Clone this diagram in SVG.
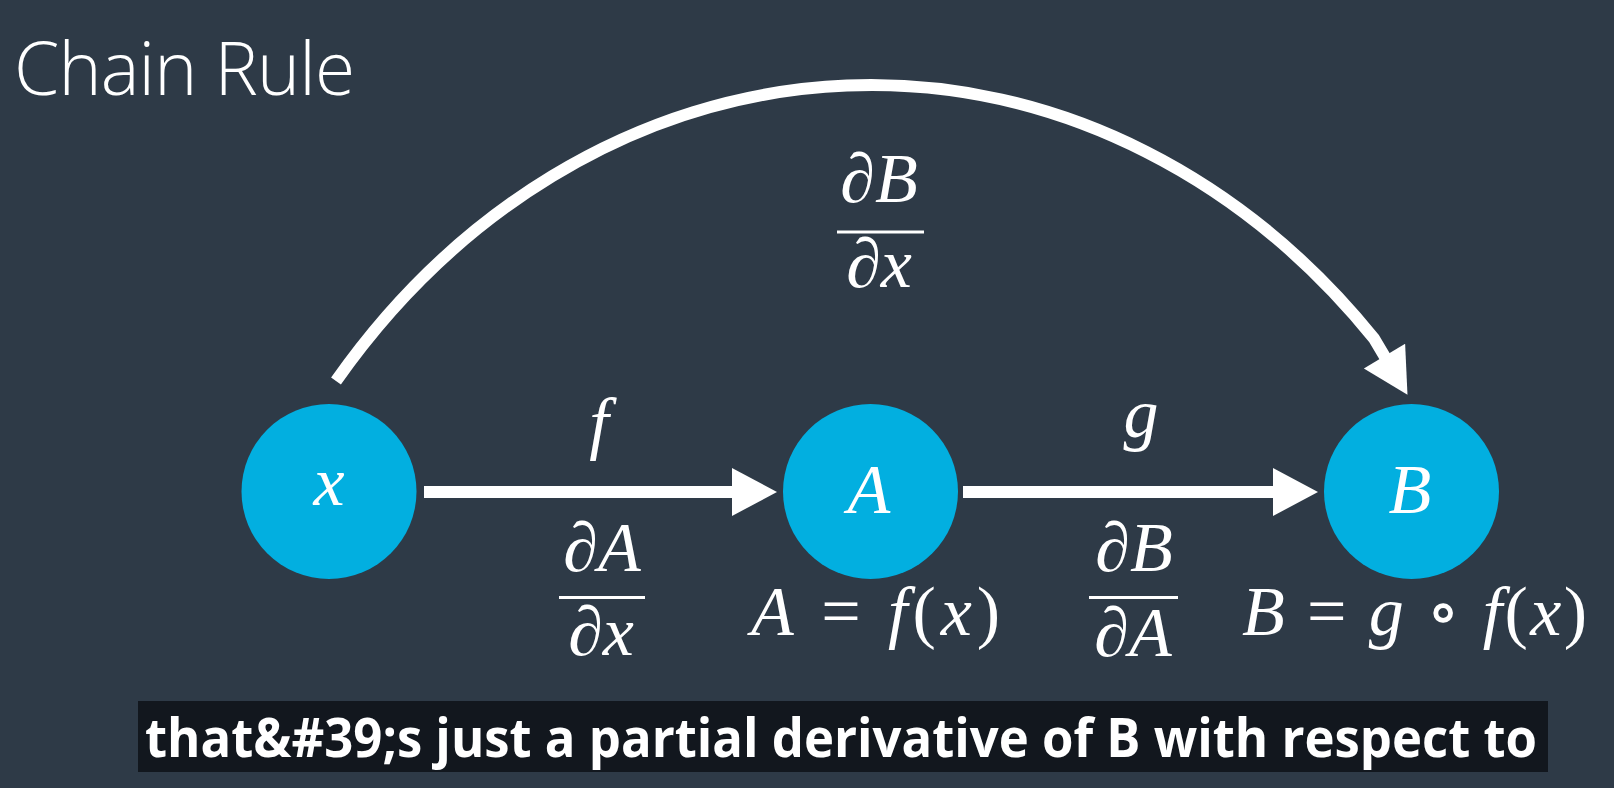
<svg xmlns="http://www.w3.org/2000/svg" width="1614" height="788" viewBox="0 0 1614 788">
  <defs>
    <style>
      .bg { fill: #2e3a47; }
      .node { fill: #02afe0; }
      .edge { fill: none; stroke: #ffffff; stroke-width: 12; stroke-linejoin: round; }
      .bar { stroke: #ffffff; stroke-width: 3; }
      .m { font-family: "Liberation Serif", "Times New Roman", "DejaVu Serif", serif; font-size: 70px; fill: #ffffff; }
      .title { font-family: "Open Sans", "Liberation Sans", sans-serif; font-weight: 300; font-size: 73px; fill: #ffffff; }
      .sub { font-family: "Open Sans", "Liberation Sans", sans-serif; font-weight: 700; font-size: 54px; fill: #ffffff; }
    </style>
    <marker id="head" markerUnits="userSpaceOnUse" markerWidth="46" markerHeight="48" refX="1" refY="24" orient="auto" overflow="visible">
      <path d="M0,0 L45,24 L0,48 Z" fill="#ffffff"/>
    </marker>
  </defs>

  <rect class="bg" x="0" y="0" width="1614" height="788"/>

  <text class="title" x="14" y="95" textLength="341" lengthAdjust="spacing">Chain Rule</text>

  <g id="connectors">
    <path id="edge-x-A" class="edge" d="M424,492 L733,492" marker-end="url(#head)"/>
    <path id="edge-A-B" class="edge" d="M963,492 L1274,492" marker-end="url(#head)"/>
    <path id="edge-x-B" class="edge" d="M336,381 A694,815 0 0 1 1374,338.5 L1385,357" marker-end="url(#head)"/>
  </g>

  <g class="m">
    <g id="edge-labels" font-style="italic">
      <text x="599" y="446" text-anchor="middle">f</text>
      <g id="frac-dA-dx">
        <text x="602" y="571" text-anchor="middle">∂A</text>
        <line class="bar" x1="559" y1="597.5" x2="645" y2="597.5"/>
        <text x="601" y="655" text-anchor="middle">∂x</text>
      </g>
      <text x="1141" y="437" text-anchor="middle">g</text>
      <g id="frac-dB-dA">
        <text x="1134" y="571" text-anchor="middle">∂B</text>
        <line class="bar" x1="1089" y1="597.5" x2="1178" y2="597.5"/>
        <text x="1133" y="656" text-anchor="middle">∂A</text>
      </g>
      <g id="frac-dB-dx">
        <text x="879" y="202" text-anchor="middle">∂B</text>
        <line class="bar" x1="837" y1="232" x2="924" y2="232"/>
        <text x="879" y="287" text-anchor="middle">∂x</text>
      </g>
    </g>

    <g id="node-x">
      <circle class="node" cx="329" cy="491.5" r="87.5"/>
      <text x="329" y="505" text-anchor="middle" font-style="italic">x</text>
    </g>

    <g id="node-A">
      <circle class="node" cx="870.5" cy="491.5" r="87.5"/>
      <text x="869" y="513" text-anchor="middle" font-style="italic">A</text>
      <text x="751" y="635" textLength="249" lengthAdjust="spacing"><tspan font-style="italic">A</tspan> = <tspan font-style="italic">f</tspan>(<tspan font-style="italic">x</tspan>)</text>
    </g>

    <g id="node-B">
      <circle class="node" cx="1411.5" cy="491.5" r="87.5"/>
      <text x="1410" y="513" text-anchor="middle" font-style="italic">B</text>
      <text x="1242" y="635" textLength="345" lengthAdjust="spacing"><tspan font-style="italic">B</tspan> = <tspan font-style="italic">g</tspan> ∘ <tspan font-style="italic">f</tspan>(<tspan font-style="italic">x</tspan>)</text>
    </g>
  </g>

  <g id="subtitle">
    <rect x="138" y="701" width="1410" height="71" fill="#12171e"/>
    <text class="sub" x="145" y="757" textLength="1392" lengthAdjust="spacingAndGlyphs">that&amp;#39;s just a partial derivative of B with respect to</text>
  </g>
</svg>
